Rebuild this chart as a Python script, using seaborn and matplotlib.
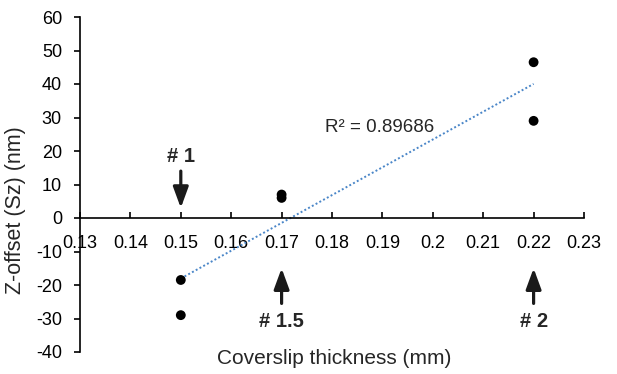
import numpy as np
import pandas as pd
import matplotlib
matplotlib.use("Agg")
import matplotlib.pyplot as plt
import seaborn as sns

# Data
thickness = [0.15, 0.15, 0.17, 0.17, 0.22, 0.22]
z_offset = [-18.5, -29.0, 7.0, 6.0, 46.5, 29.0]
x_ticks = [0.13, 0.14, 0.15, 0.16, 0.17, 0.18, 0.19, 0.20, 0.21, 0.22, 0.23]
x_tick_labels = ["0.13", "0.14", "0.15", "0.16", "0.17", "0.18", "0.19", "0.2", "0.21", "0.22", "0.23"]
y_ticks = [-40, -30, -20, -10, 0, 10, 20, 30, 40, 50, 60]
r2_label = "R² = 0.89686"
markers_text = ["# 1", "# 1.5", "# 2"]
marker_x = [0.15, 0.17, 0.22]

sns.set_style("white")
plt.rcParams["font.family"] = ["Liberation Sans", "DejaVu Sans"]
plt.rcParams["axes.unicode_minus"] = False

df = pd.DataFrame({"thickness": thickness, "z": z_offset})

fig = plt.figure(figsize=(6.17, 3.74), dpi=100)
ax = fig.add_axes([80 / 617, 1 - 352 / 374, 504 / 617, 335 / 374])

sns.regplot(data=df, x="thickness", y="z", ax=ax, ci=None, truncate=True,
            scatter_kws=dict(s=50, color="black", edgecolor="none", zorder=3, alpha=1),
            line_kws=dict(color="#4a86c8", lw=1.4, ls=(0, (1, 1.2)), zorder=2))

ax.set_xlim(0.13, 0.23)
ax.set_ylim(-40, 60)
ax.set_xticks(x_ticks)
ax.set_xticklabels(x_tick_labels)
ax.set_yticks(y_ticks)
ax.set_xlabel("")
ax.set_ylabel("")

for s in ["top", "right"]:
    ax.spines[s].set_visible(False)
for s in ["left", "bottom"]:
    ax.spines[s].set_color("black")
    ax.spines[s].set_linewidth(1.2)
ax.spines["bottom"].set_position(("data", 0))

ax.tick_params(axis="x", direction="in", length=4, width=1.2, pad=12, labelsize=13, colors="black")
ax.tick_params(axis="y", direction="out", length=4, width=1.2, pad=9, labelsize=13, colors="black")
ax.tick_params(axis="x", bottom=True)
ax.tick_params(axis="y", left=True)

ax.text(0.1895, 27, r2_label, fontsize=13.5, ha="center", va="center")

# Annotation arrows
arrow_props = dict(arrowstyle="-|>,head_length=0.9,head_width=0.33", lw=2.3, color="#1a1a1a",
                   mutation_scale=14, shrinkA=0, shrinkB=0)
ax.annotate("", xy=(marker_x[0], 3), xytext=(marker_x[0], 14), arrowprops=arrow_props)
ax.text(marker_x[0], 18.3, markers_text[0], fontsize=14.5, fontweight="bold", ha="center", va="center")
ax.annotate("", xy=(marker_x[1], -15), xytext=(marker_x[1], -25.5), arrowprops=arrow_props)
ax.text(marker_x[1], -31, markers_text[1], fontsize=14.5, fontweight="bold", ha="center", va="center")
ax.annotate("", xy=(marker_x[2], -15), xytext=(marker_x[2], -25.5), arrowprops=arrow_props)
ax.text(marker_x[2], -31, markers_text[2], fontsize=14.5, fontweight="bold", ha="center", va="center")

fig.text(334 / 617, 1 - 358 / 374, "Coverslip thickness (mm)", fontsize=15, ha="center", va="center")
fig.text(16 / 617, 1 - 210 / 374, "Z-offset (Sz) (nm)", fontsize=15.5, rotation=90, ha="center", va="center")

fig.savefig("out.png", dpi=100)
